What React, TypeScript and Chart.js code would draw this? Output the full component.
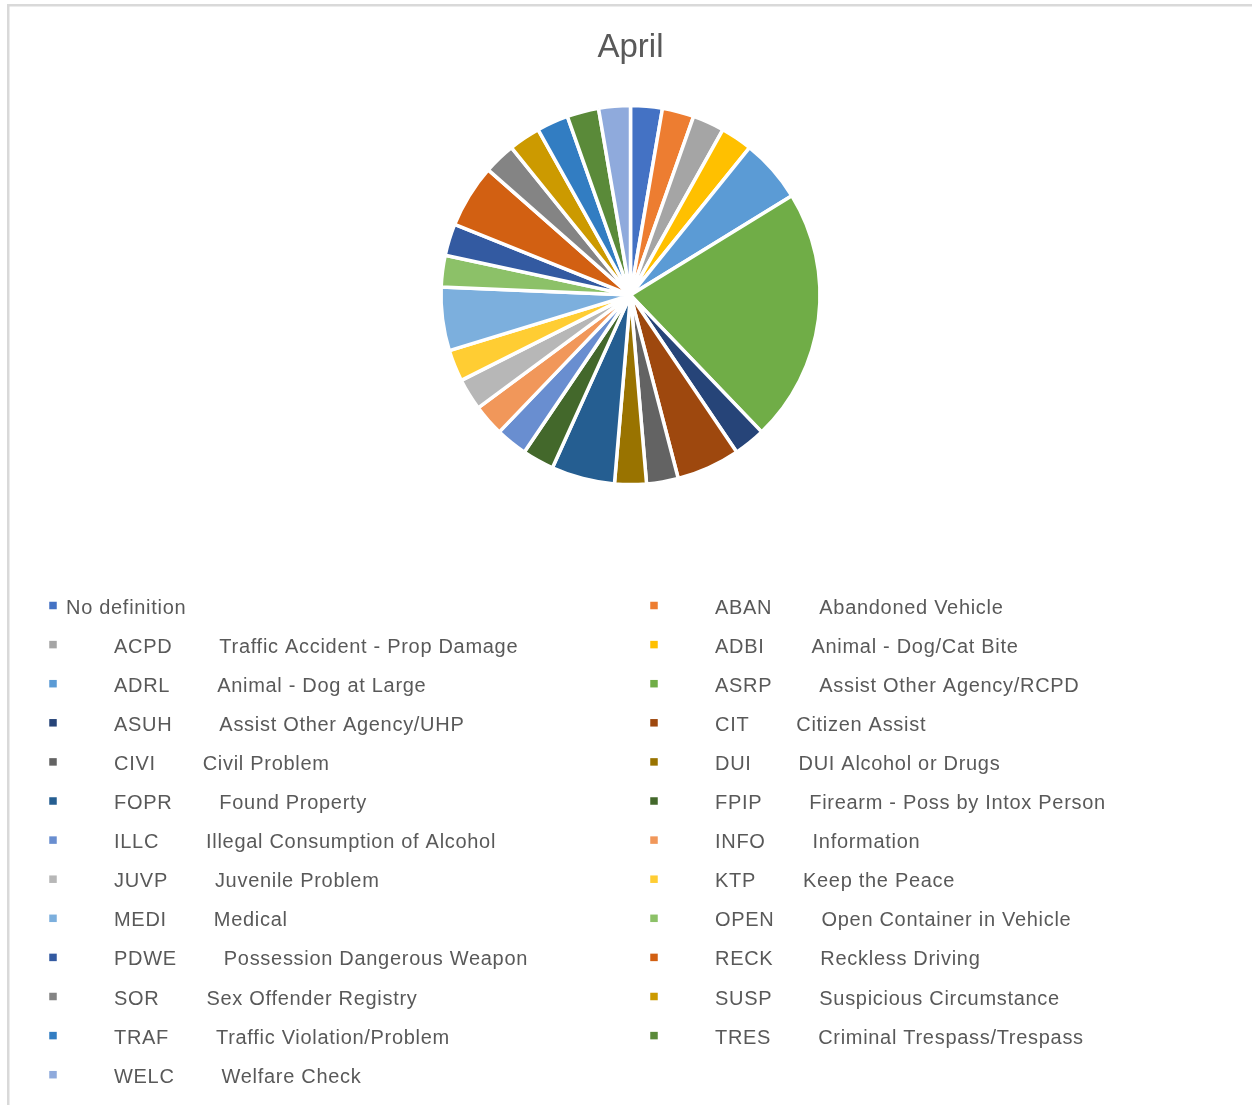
import React, { useEffect, useRef } from "react";
import { Chart, registerables } from "chart.js";

Chart.register(...registerables);

const chartTitle = "April";

const codes = [
  "", "ABAN", "ACPD", "ADBI", "ADRL", "ASRP", "ASUH", "CIT", "CIVI", "DUI",
  "FOPR", "FPIP", "ILLC", "INFO", "JUVP", "KTP", "MEDI", "OPEN", "PDWE", "RECK",
  "SOR", "SUSP", "TRAF", "TRES", "WELC",
];

const descriptions = [
  "No definition",
  "Abandoned Vehicle",
  "Traffic Accident - Prop Damage",
  "Animal - Dog/Cat Bite",
  "Animal - Dog at Large",
  "Assist Other Agency/RCPD",
  "Assist Other Agency/UHP",
  "Citizen Assist",
  "Civil Problem",
  "DUI Alcohol or Drugs",
  "Found Property",
  "Firearm - Poss by Intox Person",
  "Illegal Consumption of Alcohol",
  "Information",
  "Juvenile Problem",
  "Keep the Peace",
  "Medical",
  "Open Container in Vehicle",
  "Possession Dangerous Weapon",
  "Reckless Driving",
  "Sex Offender Registry",
  "Suspicious Circumstance",
  "Traffic Violation/Problem",
  "Criminal Trespass/Trespass",
  "Welfare Check",
];

const counts = [1, 1, 1, 1, 2, 8, 1, 2, 1, 1, 2, 1, 1, 1, 1, 1, 2, 1, 1, 2, 1, 1, 1, 1, 1];

const sliceColors = [
  "#4472C4", "#ED7D31", "#A5A5A5", "#FFC000", "#5B9BD5", "#70AD47",
  "#264478", "#9E480E", "#636363", "#997300", "#255E91", "#43682B",
  "#698ED0", "#F1975A", "#B7B7B7", "#FFCD33", "#7CAFDD", "#8CC168",
  "#335AA1", "#D26012", "#848484", "#CC9A00", "#327DC2", "#5A8A39",
  "#8FAADC",
];

const TEXT_COLOR = "#595959";
const FONT = '"Liberation Sans", Arial, sans-serif';

const customLegend = {
  id: "customLegend",
  beforeDraw(chart: any) {
    const ctx = chart.ctx;
    ctx.save();
    ctx.fillStyle = "#D9D9D9";
    ctx.fillRect(7, 4, chart.width - 7, 2.5);
    ctx.fillRect(7, 4, 2.5, chart.height - 4);
    ctx.restore();
  },
  afterDraw(chart: any) {
    const ctx = chart.ctx;
    ctx.save();
    ctx.font = `20px ${FONT}`;
    try {
      (ctx as any).letterSpacing = "0.7px";
    } catch (e) {}
    ctx.textBaseline = "alphabetic";
    ctx.textAlign = "left";
    descriptions.forEach((desc, i) => {
      const col = i % 2;
      const row = Math.floor(i / 2);
      const mx = col === 0 ? 53 : 654;
      const y = 605.5 + row * 39.1;
      ctx.fillStyle = sliceColors[i];
      ctx.fillRect(mx - 3.75, y - 3.75, 7.5, 7.5);
      ctx.fillStyle = TEXT_COLOR;
      const code = codes[i];
      if (!code) {
        ctx.fillText(desc, mx + 13, y + 8);
      } else {
        ctx.fillText(code, mx + 61, y + 8);
        const w = ctx.measureText(code).width;
        ctx.fillText(desc, mx + 61 + w + 47, y + 8);
      }
    });
    ctx.restore();
  },
};

export default function App() {
  const canvasRef = useRef<HTMLCanvasElement | null>(null);

  useEffect(() => {
    if (!canvasRef.current) return;
    const labels = descriptions.map((d, i) => (codes[i] ? `${codes[i]} ${d}` : d));
    const chart = new Chart(canvasRef.current, {
      type: "pie",
      data: {
        labels,
        datasets: [
          {
            data: counts,
            backgroundColor: sliceColors,
            borderColor: "#FFFFFF",
            borderWidth: 3.5,
            radius: 189.5,
          } as any,
        ],
      },
      options: {
        animation: false,
        responsive: false,
        events: [],
        layout: {
          padding: { left: 20, right: 11, top: 0, bottom: 582.4 },
        },
        plugins: {
          legend: { display: false },
          tooltip: { enabled: false },
          title: {
            display: true,
            text: chartTitle,
            color: TEXT_COLOR,
            font: { family: FONT, size: 33, weight: "normal", lineHeight: 1.2 },
            padding: { top: 28, bottom: 0 },
          },
        },
      },
      plugins: [customLegend],
    });
    return () => chart.destroy();
  }, []);

  return (
    <div
      style={{
        position: "fixed",
        left: 0,
        top: 0,
        width: 1252,
        height: 1105,
        overflow: "hidden",
        background: "#FFFFFF",
      }}
    >
      <canvas ref={canvasRef} width={1252} height={1105} style={{ display: "block" }} />
    </div>
  );
}
